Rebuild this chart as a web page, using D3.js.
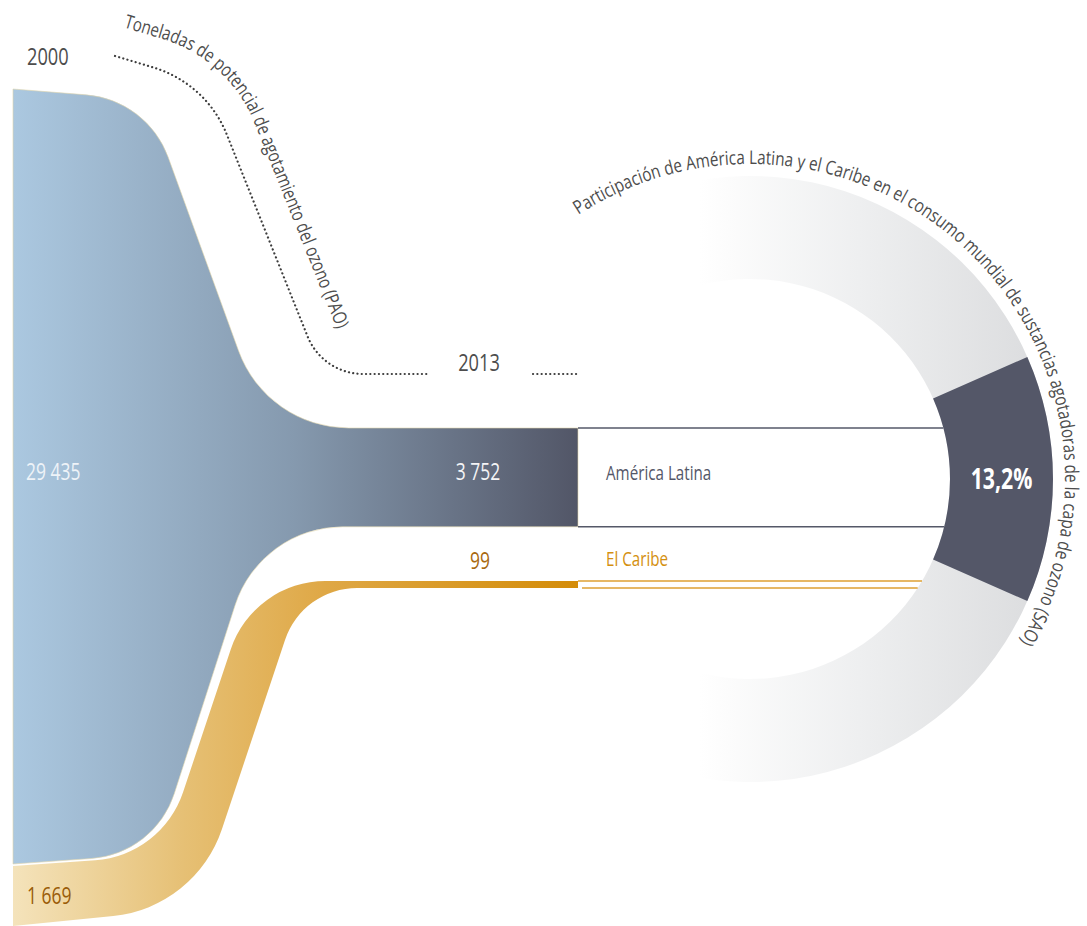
<!DOCTYPE html>
<html>
<head>
<meta charset="utf-8">
<script src="https://cdn.jsdelivr.net/npm/d3@7"></script>
<style>
  body { margin: 0; background: #fff; }
  svg text { font-family: "Open Sans", "Noto Sans", sans-serif; }
</style>
</head>
<body>
<svg id="chart" width="1087" height="926"></svg>
<script>
// data
const years = ["2000", "2013"];
const regions = ["América Latina", "El Caribe"];
const latam = [29435, 3752];   // toneladas PAO, América Latina
const caribe = [1669, 99];     // toneladas PAO, El Caribe
const shareLAC = 13.2;         // % del consumo mundial de SAO
const leftTitle = "Toneladas de potencial de agotamiento del ozono (PAO)";
const ringTitle = "Participación de América Latina y el Caribe en el consumo mundial de sustancias agotadoras de la capa de ozono (SAO)";

const svg = d3.select("#chart");
const defs = svg.append("defs");
const narrow = 0.76; // condensed look

const loc = d3.formatLocale({ decimal: ",", thousands: " ", grouping: [3], currency: ["", ""] });
const fmtInt = loc.format(",d");
const fmtPct = loc.format(".1f");

const x = d3.scalePoint().domain(years).range([13, 578]);
const X0 = x(years[0]), X1 = x(years[1]);

// band widths
const latW = d3.scaleLinear().domain([0, latam[0]]).range([0, 775]);
const carW = d3.scalePow().exponent(0.76).domain([0, caribe[0]]).range([0, 60]);

const yLat0 = 89, yLat1 = 428, yCar1 = 581, gap = 2;
const latBot0 = yLat0 + latW(latam[0]);
const latBot1 = yLat1 + latW(latam[1]);
const carTop0 = latBot0 + gap;
const carBot0 = carTop0 + carW(caribe[0]);
const carBot1 = yCar1 + carW(caribe[1]);

// ring
const ring = { cx: 750, cy: 479, r0: 200, r1: 303 };

function grad(id, x0, x1, stops) {
  const g = defs.append("linearGradient").attr("id", id)
    .attr("gradientUnits", "userSpaceOnUse")
    .attr("x1", x0).attr("x2", x1).attr("y1", 0).attr("y2", 0);
  g.selectAll("stop").data(stops).join("stop")
    .attr("offset", d => d[0]).attr("stop-color", d => d[1]);
}
grad("gLat", X0, X1, [[0, "#abc8e0"], [0.5, "#8599ae"], [1, "#525667"]]);
grad("gCar", X0, X1, [[0, "#f4e3bb"], [0.3, "#e6c075"], [0.55, "#dfa846"], [1, "#d48c08"]]);
// ring gradient lives in the ring group's coordinates
grad("gRing", 700 - ring.cx, ring.r1, [[0, "#ffffff"], [0.08, "#fcfcfc"], [0.45, "#eeeff0"], [1, "#dadbdd"]]);

function label(x, y, str, size, color, opts = {}) {
  const t = svg.append("text")
    .attr("transform", `translate(${x},${y}) scale(${narrow},1)`)
    .attr("font-size", size).attr("fill", color)
    .attr("text-anchor", opts.anchor || "start")
    .text(str);
  if (opts.bold) t.attr("font-weight", "bold");
  return t;
}

// an edge: flat-ish start, rounded corner, steep run, rounded corner, flat end
function edge(x0, y0, x1, y1, xc, m, sL, r1, r2) {
  const yc = (y0 + y1) / 2;
  const c1x = (yc - m * xc - y0 + sL * x0) / (sL - m);
  return { x0, y0, x1, y1, r1, r2,
    c1: [c1x, y0 + sL * (c1x - x0)],
    c2: [xc + (y1 - yc) / m, y1] };
}

function edgePath(e) {
  const p = d3.path();
  p.moveTo(e.x0, e.y0);
  p.arcTo(e.c1[0], e.c1[1], e.c2[0], e.c2[1], e.r1);
  p.arcTo(e.c2[0], e.c2[1], e.x1, e.y1, e.r2);
  p.lineTo(e.x1, e.y1);
  return p.toString();
}

function ribbon(t, b) {
  const p = d3.path();
  p.moveTo(t.x0, t.y0);
  p.arcTo(t.c1[0], t.c1[1], t.c2[0], t.c2[1], t.r1);
  p.arcTo(t.c2[0], t.c2[1], t.x1, t.y1, t.r2);
  p.lineTo(t.x1, t.y1);
  p.lineTo(b.x1, b.y1);
  p.arcTo(b.c2[0], b.c2[1], b.c1[0], b.c1[1], b.r2);
  p.arcTo(b.c1[0], b.c1[1], b.x0, b.y0, b.r1);
  p.lineTo(b.x0, b.y0);
  p.closePath();
  return p.toString();
}

const latTopEdge = edge(X0, yLat0, X1, yLat1, 205, 2.75, 0.08, 95, 117);
const latBotEdge = edge(X0, latBot0, X1, latBot1, 206, -3.1, -0.07, 94, 113);
const carTopEdge = edge(X0, carTop0, X1, yCar1, 206, -3, -0.07, 100, 100);
const carBotEdge = edge(X0, carBot0, X1, carBot1, 246, -3, -0.1, 128, 76);

svg.append("path").attr("d", ribbon(carTopEdge, carBotEdge)).attr("fill", "url(#gCar)");
svg.append("path").attr("d", ribbon(latTopEdge, latBotEdge)).attr("fill", "url(#gLat)")
  .attr("stroke", "#e2d6ad").attr("stroke-width", 0.6);

// ring
const arc = d3.arc().innerRadius(ring.r0).outerRadius(ring.r1);
const rg = svg.append("g").attr("transform", `translate(${ring.cx},${ring.cy})`);
rg.append("path").attr("d", arc({ startAngle: -0.25, endAngle: Math.PI + 0.25 })).attr("fill", "url(#gRing)");
const half = shareLAC / 100 * Math.PI;
rg.append("path").attr("d", arc({ startAngle: Math.PI / 2 - half, endAngle: Math.PI / 2 + half })).attr("fill", "#545768");
label(ring.cx + (ring.r0 + ring.r1) / 2, ring.cy + 10, fmtPct(shareLAC) + "%", 28, "#fff", { anchor: "middle", bold: true });

// open boxes towards the ring
const xIn = y => ring.cx + Math.sqrt(ring.r0 * ring.r0 - (y - ring.cy) ** 2);
const boxLines = [
  { x: X1, y: yLat1, c: "#555868" },
  { x: X1, y: latBot1, c: "#555868" },
  { x: X1, y: yCar1, c: "#dea133" },
  { x: X1 + 4, y: carBot1, c: "#dea133" }
];
svg.selectAll(".box").data(boxLines).join("line")
  .attr("x1", d => d.x).attr("x2", d => xIn(d.y))
  .attr("y1", d => d.y).attr("y2", d => d.y)
  .attr("stroke", d => d.c).attr("stroke-width", 1.5);

// dotted guide + years
const dotEdge = edge(115, 56, 428, 374, 259, 2.5, 0.3, 114, 60);
svg.append("path").attr("d", edgePath(dotEdge))
  .attr("fill", "none").attr("stroke", "#3d3d3d").attr("stroke-width", 2.2)
  .attr("stroke-linecap", "round").attr("stroke-dasharray", "0.1 4.2");
svg.append("line").attr("x1", 533).attr("x2", X1).attr("y1", 374).attr("y2", 374)
  .attr("stroke", "#3d3d3d").attr("stroke-width", 2.2)
  .attr("stroke-linecap", "round").attr("stroke-dasharray", "0.1 4.2");

label(27, 65, years[0], 24, "#4d4d4d");
label(479, 371, years[1], 24, "#4d4d4d", { anchor: "middle" });

// left curved title (offset of the dotted guide)
{
  const d = 30, m = 2.5, sL = 0.3;
  const n1 = [sL / Math.hypot(1, sL), -1 / Math.hypot(1, sL)];
  const n2 = [m / Math.hypot(1, m), -1 / Math.hypot(1, m)];
  const p0 = [dotEdge.x0 + d * n1[0], dotEdge.y0 + d * n1[1]];
  const q = [dotEdge.c2[0] + d * n2[0], dotEdge.c2[1] + d * n2[1]];
  const cx = (q[1] - m * q[0] - p0[1] + sL * p0[0]) / (sL - m);
  const c1 = [cx, p0[1] + sL * (cx - p0[0])];
  const end = [q[0] + 40 / m, q[1] + 40];
  const p = d3.path();
  p.moveTo(p0[0], p0[1]);
  p.arcTo(c1[0], c1[1], end[0], end[1], dotEdge.r1 + d);
  p.lineTo(end[0], end[1]);
  defs.append("path").attr("id", "leftTitlePath").attr("d", p.toString());
  svg.append("text").attr("font-size", 19).attr("fill", "#4d4d4d")
    .append("textPath").attr("href", "#leftTitlePath")
    .attr("textLength", 392).attr("lengthAdjust", "spacingAndGlyphs")
    .text(leftTitle);
}

// ring title
{
  const rT = 315, a0 = -33, a1 = 121;
  const p = d3.path();
  const toRad = a => (a - 90) * Math.PI / 180;
  p.arc(ring.cx, ring.cy, rT, toRad(a0), toRad(a1));
  defs.append("path").attr("id", "ringTitlePath").attr("d", p.toString());
  svg.append("text").attr("font-size", 19).attr("fill", "#4d4d4d")
    .append("textPath").attr("href", "#ringTitlePath")
    .attr("textLength", rT * (a1 - a0) * Math.PI / 180).attr("lengthAdjust", "spacingAndGlyphs")
    .text(ringTitle);
}

// value labels
label(26, 480, fmtInt(latam[0]), 23, "#eef3f8");
label(27, 904, fmtInt(caribe[0]), 23, "#9a5c08");
label(478, 480, fmtInt(latam[1]), 23, "#f4f4f6", { anchor: "middle" });
label(480, 569, fmtInt(caribe[1]), 23, "#a8680e", { anchor: "middle" });

// region labels
label(606, 480, regions[0], 20, "#545768");
label(606, 566, regions[1], 20, "#d4900f");
</script>
</body>
</html>
